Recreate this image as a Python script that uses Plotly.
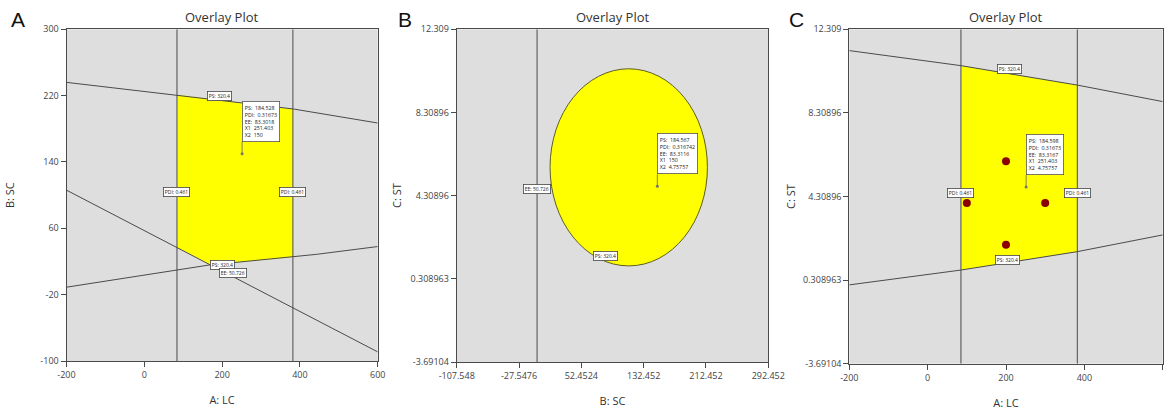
import numpy as np
import plotly.graph_objects as go

W, H = 1164, 410

# ---------------- Panel A (x: A: LC, y: B: SC) ----------------
A_xticks = [-200, 0, 200, 400, 600]
A_yticks = [-100, -20, 60, 140, 220, 300]
A_pdi_x = [84, 382]                       # PDI = 0.461 vertical boundaries
A_ps_up_x = [-200, 83, 382, 600]          # upper PS contour
A_ps_up_y = [236, 221, 204, 187]
A_ps_lo_x = [-200, 150, 382, 600]         # lower PS contour
A_ps_lo_y = [-11, 15, 25, 38]
A_ee_x = [-200, 83, 600]                  # EE contour
A_ee_y = [106, 37, -89]
A_opt = (251.403, 150)
A_flag = ["PS:  184.528", "PDI:  0.31673", "EE:  83.3018", "X1  251.403", "X2  150"]

# ---------------- Panel B (x: B: SC, y: C: ST) ----------------
B_xticks = [-107.548, -27.5476, 52.4524, 132.452, 212.452, 292.452]
B_yticks = [-3.69104, 0.308963, 4.30896, 8.30896, 12.309]
B_ee_x = -4.4                             # EE vertical contour
B_ellipse_x = [12.3, 214.3]               # PS region extents
B_ellipse_y = [0.93, 10.41]
B_opt = (150, 4.75757)
B_flag = ["PS:  184.567", "PDI:  0.316742", "EE:  83.3116", "X1  150", "X2  4.75757"]

# ---------------- Panel C (x: A: LC, y: C: ST) ----------------
C_xticks = [-200, 0, 200, 400, 600]
C_yticks = B_yticks
C_pdi_x = [85, 382]
C_ps_up_x = [-200, 85, 382, 600]
C_ps_up_y = [11.29, 10.57, 9.64, 8.85]
C_ps_lo_x = [-200, 85, 382, 600]
C_ps_lo_y = [0.08, 0.79, 1.67, 2.47]
C_design_x = [200, 100, 300, 200]
C_design_y = [6, 4, 4, 2]
C_opt = (251.403, 4.75757)
C_flag = ["PS:  184.598", "PDI:  0.31673", "EE:  83.3167", "X1  251.403", "X2  4.75757"]

GREY_BG = "#dedede"
LINE = "#4a4a4a"
YELLOW = "#ffff00"
FONT = "Open Sans"

fig = go.Figure()

def px2x(a, b):
    return [a / W, b / W]

def py2y(top, bottom):
    return [1 - bottom / H, 1 - top / H]

domains = {
    "A": (px2x(66.5, 377.7), py2y(29.3, 361)),
    "B": (px2x(456.7, 768.3), py2y(29.3, 362)),
    "C": (px2x(849.3, 1162.7), py2y(29.3, 363.7)),
}
axes = {"A": ("x", "y"), "B": ("x2", "y2"), "C": ("x3", "y3")}

def line_trace(x, y, ax):
    xa, ya = axes[ax]
    fig.add_trace(go.Scatter(x=x, y=y, mode="lines", line=dict(color=LINE, width=1),
                             xaxis=xa, yaxis=ya, showlegend=False, hoverinfo="skip"))

# ---- Panel A region ----
xs = np.linspace(A_pdi_x[0], A_pdi_x[1], 200)
top = np.interp(xs, A_ps_up_x, A_ps_up_y)
bot = np.maximum(np.interp(xs, A_ps_lo_x, A_ps_lo_y), np.interp(xs, A_ee_x, A_ee_y))
fig.add_trace(go.Scatter(x=np.concatenate([xs, xs[::-1]]), y=np.concatenate([top, bot[::-1]]),
                         fill="toself", fillcolor=YELLOW, mode="lines", line=dict(width=0),
                         xaxis="x", yaxis="y", showlegend=False, hoverinfo="skip"))
xf = np.linspace(-200, 600, 200)
line_trace(xf, np.interp(xf, A_ps_up_x, A_ps_up_y), "A")
line_trace(xf, np.interp(xf, A_ps_lo_x, A_ps_lo_y), "A")
line_trace(A_ee_x, A_ee_y, "A")
for xv in A_pdi_x:
    line_trace([xv, xv], [A_yticks[0], A_yticks[-1]], "A")

# ---- Panel B ----
fig.add_shape(type="circle", xref="x2", yref="y2",
              x0=B_ellipse_x[0], x1=B_ellipse_x[1], y0=B_ellipse_y[0], y1=B_ellipse_y[1],
              fillcolor=YELLOW, line=dict(color="#5e5e22", width=1), layer="below")
line_trace([B_ee_x, B_ee_x], [B_yticks[0], B_yticks[-1]], "B")

# ---- Panel C region ----
xs = np.linspace(C_pdi_x[0], C_pdi_x[1], 200)
top = np.interp(xs, C_ps_up_x, C_ps_up_y)
bot = np.interp(xs, C_ps_lo_x, C_ps_lo_y)
fig.add_trace(go.Scatter(x=np.concatenate([xs, xs[::-1]]), y=np.concatenate([top, bot[::-1]]),
                         fill="toself", fillcolor=YELLOW, mode="lines", line=dict(width=0),
                         xaxis="x3", yaxis="y3", showlegend=False, hoverinfo="skip"))
line_trace(C_ps_up_x, C_ps_up_y, "C")
line_trace(C_ps_lo_x, C_ps_lo_y, "C")
for xv in C_pdi_x:
    line_trace([xv, xv], [C_yticks[0], C_yticks[-1]], "C")
fig.add_trace(go.Scatter(x=C_design_x, y=C_design_y, mode="markers",
                         marker=dict(color="#8b0000", size=8), xaxis="x3", yaxis="y3",
                         showlegend=False, hoverinfo="skip"))

# ---- flags (optimum points) ----
for key, opt, flag in (("A", A_opt, A_flag), ("B", B_opt, B_flag), ("C", C_opt, C_flag)):
    xa, ya = axes[key]
    fig.add_trace(go.Scatter(x=[opt[0]], y=[opt[1]], mode="markers",
                             marker=dict(color="#777", size=3), xaxis=xa, yaxis=ya,
                             showlegend=False, hoverinfo="skip"))
    fig.add_annotation(x=opt[0], y=opt[1], xref=xa, yref=ya, text="<br>".join(flag),
                       showarrow=True, arrowhead=0, arrowwidth=0.8, arrowcolor="#666",
                       ax=0, ay=-12, xanchor="left", yanchor="bottom", align="left",
                       bgcolor="white", bordercolor="#555", borderwidth=0.8, borderpad=2,
                       font=dict(family=FONT, size=5.3, color="#222"))

# ---- constraint labels ----
def tag(key, x, y, text):
    xa, ya = axes[key]
    fig.add_annotation(x=x, y=y, xref=xa, yref=ya, text=text, showarrow=False,
                       xanchor="center", yanchor="middle",
                       bgcolor="white", bordercolor="#444", borderwidth=0.8, borderpad=1,
                       font=dict(family=FONT, size=5, color="#222"))

tag("A", 194, 219, "PS: 320.4")
tag("A", A_pdi_x[0], 104, "PDI: 0.461")
tag("A", A_pdi_x[1], 104, "PDI: 0.461")
tag("A", 200, 16, "PS: 320.4")
tag("A", 229, 6, "EE: 50.726")
tag("B", B_ee_x, 4.64, "EE: 50.726")
tag("B", 83, 1.4, "PS: 320.4")
tag("C", 210, 10.4, "PS: 320.4")
tag("C", C_pdi_x[0], 4.5, "PDI: 0.461")
tag("C", C_pdi_x[1], 4.5, "PDI: 0.461")
tag("C", 203, 1.25, "PS: 320.4")

# ---- axes ----
def axis_common():
    return dict(showgrid=False, zeroline=False, showline=True, mirror=True, linecolor=LINE,
                linewidth=1, ticks="outside", ticklen=5, tickcolor=LINE, automargin=False,
                tickfont=dict(family=FONT, size=9, color="#444"))

specs = {
    "A": (A_xticks, A_yticks, "A: LC", "B: SC", [str(v) for v in A_xticks], [str(v) for v in A_yticks], 23),
    "B": (B_xticks, B_yticks, "B: SC", "C: ST", [str(v) for v in B_xticks], [str(v) for v in B_yticks], 6),
    "C": (C_xticks, C_yticks, "A: LC", "C: ST", [str(v) for v in C_xticks], [str(v) for v in C_yticks], 5),
}
names = {"A": ("xaxis", "yaxis"), "B": ("xaxis2", "yaxis2"), "C": ("xaxis3", "yaxis3")}
layout_axes = {}
for key, (xt, yt, xtitle, ytitle, xlab, ylab, ystand) in specs.items():
    xn, yn = names[key]
    xa, ya = axes[key]
    dx, dy = domains[key]
    xd = axis_common()
    xd.update(domain=dx, range=[xt[0], xt[-1]], tickvals=xt, ticktext=xlab, anchor=ya,
              title=dict(text=xtitle, font=dict(family=FONT, size=11, color="#333"), standoff=16))
    yd = axis_common()
    yd.update(domain=dy, range=[yt[0], yt[-1]], tickvals=yt, ticktext=ylab, anchor=xa,
              title=dict(text=ytitle, font=dict(family=FONT, size=11, color="#333"), standoff=ystand))
    layout_axes[xn] = xd
    layout_axes[yn] = yd

fig.update_layout(**layout_axes)

# titles and panel letters
for key, letter, lx in (("A", "A", 18), ("B", "B", 405), ("C", "C", 796)):
    dx, dy = domains[key]
    fig.add_annotation(x=(dx[0] + dx[1]) / 2, y=1 - 17 / H, xref="paper", yref="paper",
                       xanchor="center", yanchor="middle",
                       text="Overlay Plot", showarrow=False,
                       font=dict(family=FONT, size=13, color="#333"))
    fig.add_annotation(x=lx / W, y=1 - 19 / H, xref="paper", yref="paper", text=letter,
                       xanchor="center", yanchor="middle",
                       showarrow=False, font=dict(family="Liberation Sans", size=21, color="#111"))

fig.update_layout(width=W, height=H, margin=dict(l=0, r=0, t=0, b=0),
                  paper_bgcolor="white", plot_bgcolor=GREY_BG, showlegend=False)

fig.write_html("out.html")
